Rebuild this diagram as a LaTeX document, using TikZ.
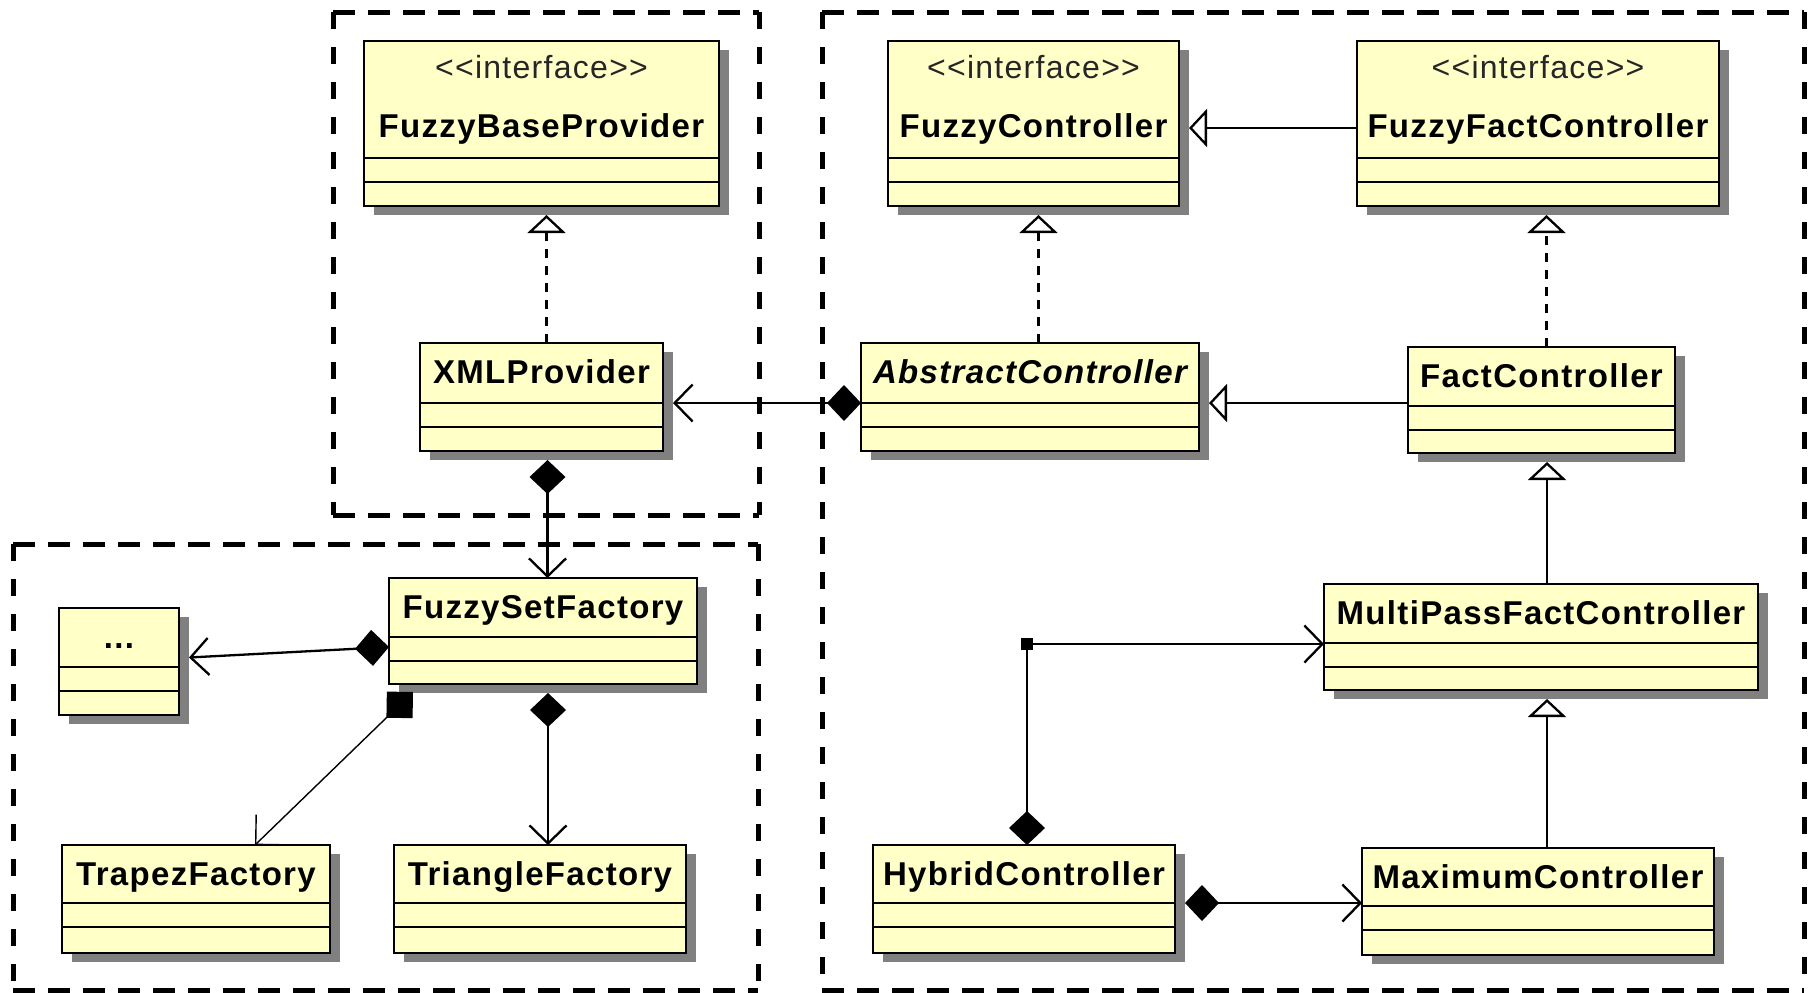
\documentclass[tikz,border=0pt]{standalone}
\usepackage{fontspec}
\newfontfamily\umlfont{Liberation Sans}[LetterSpace=4]
\usetikzlibrary{arrows.meta,shadows,calc}

\definecolor{umlfill}{RGB}{255,255,200}
\definecolor{umlshadow}{RGB}{128,128,128}

% one unit = one pixel of a 1809 x 992 canvas, y grows downwards
\tikzset{
  classbox/.style={draw=black, line width=1.35pt, fill=umlfill, inner sep=0pt, outer sep=0pt,
    anchor=north west,
    drop shadow={shadow xshift=5pt, shadow yshift=-4.5pt, fill=umlshadow, opacity=1}},
  divider/.style={line width=1.15pt},
  cname/.style={font=\umlfont\fontsize{16.5pt}{19pt}\selectfont\bfseries, anchor=base, inner sep=0pt},
  aname/.style={font=\umlfont\fontsize{16.5pt}{19pt}\selectfont\bfseries\itshape, anchor=base, inner sep=0pt},
  stereo/.style={font=\umlfont\fontsize{16pt}{19pt}\selectfont, anchor=base, inner sep=0pt, text=black!85},
  conn/.style={line width=1.15pt},
  realize/.style={conn, dash pattern=on 4.5pt off 4pt,
    -{Triangle[open, length=9pt, width=19pt, fill=white]}},
  general/.style={conn, -{Triangle[open, length=9pt, width=19pt, fill=white]}},
  compose/.style={conn, {Diamond[length=17pt, width=18pt]}-{Straight Barb[length=9pt, width=18.5pt]}},
  diagcompose/.style={line width=0.7pt, {Diamond[length=18.5pt, width=18.5pt]}-{Straight Barb[length=10.5pt, width=21pt]}},
  bendmark/.style={fill=black, inner sep=0pt, minimum size=6pt},
  pkgh/.style={line width=2.5pt, dash pattern=on 11pt off 6.5pt},
  pkgv/.style={line width=2.5pt, dash pattern=on 8.5pt off 9pt},
}

% class box: name, left, top, right, bottom, height of the name compartment
\newcommand\umlclass[6]{%
  \node[classbox, minimum width={(#4-#2)*0.5pt}, minimum height={(#5-#3)*0.5pt}] (#1) at (#2,#3) {};
  \draw[divider] ($(#1.north west)+(0,#6)$) -- ($(#1.north east)+(0,#6)$);
  \draw[divider] ($(#1.north west)+(0,#6+24)$) -- ($(#1.north east)+(0,#6+24)$);
}

% dashed package frame: left, top, right, bottom
\newcommand\pkgframe[4]{%
  \draw[pkgh] (#1,#2) -- (#3,#2);
  \draw[pkgh] (#1,#4) -- (#3,#4);
  \draw[pkgv] (#1,#2) -- (#1,#4);
  \draw[pkgv] (#3,#2) -- (#3,#4);
}

\begin{document}
\begin{tikzpicture}[x=0.5pt, y=-0.5pt]
\useasboundingbox (0,0) rectangle (1809,992);

% packages
\pkgframe{333}{12}{759}{515}
\pkgframe{13}{544}{758}{990}
\pkgframe{822}{12}{1804}{990}

% classes
\umlclass{fbp}{364}{41}{719}{206}{117}
\node[stereo] (fbp-st) at ($(fbp.north)+(0,37)$) {<<interface>>};
\node[cname] (fbp-name) at ($(fbp.north)+(0,96)$) {FuzzyBaseProvider};

\umlclass{xml}{420}{343}{663}{451}{60}
\node[cname] (xml-name) at ($(xml.north)+(0,40)$) {XMLProvider};

\umlclass{fsf}{389}{578}{697}{684}{59}
\node[cname] (fsf-name) at ($(fsf.north)+(0,40)$) {FuzzySetFactory};

\umlclass{dots}{59}{608}{179}{715}{59}
\node[cname] (dots-name) at ($(dots.north)+(0,40)$) {...};

\umlclass{trapez}{62}{845}{330}{953}{58}
\node[cname] (trapez-name) at ($(trapez.north)+(0,40)$) {TrapezFactory};

\umlclass{tri}{394}{845}{686}{953}{58}
\node[cname] (tri-name) at ($(tri.north)+(0,40)$) {TriangleFactory};

\umlclass{fc}{888}{41}{1179}{206}{117}
\node[stereo] (fc-st) at ($(fc.north)+(0,37)$) {<<interface>>};
\node[cname] (fc-name) at ($(fc.north)+(0,96)$) {FuzzyController};

\umlclass{ffc}{1357}{41}{1719}{206}{117}
\node[stereo] (ffc-st) at ($(ffc.north)+(0,37)$) {<<interface>>};
\node[cname] (ffc-name) at ($(ffc.north)+(0,96)$) {FuzzyFactController};

\umlclass{ac}{861}{343}{1199}{451}{60}
\node[aname] (ac-name) at ($(ac.north)+(0,40)$) {AbstractController};

\umlclass{fact}{1408}{347}{1675}{453}{59}
\node[cname] (fact-name) at ($(fact.north)+(0,40)$) {FactController};

\umlclass{multi}{1324}{584}{1758}{690}{59}
\node[cname] (multi-name) at ($(multi.north)+(0,40)$) {MultiPassFactController};

\umlclass{hybrid}{873}{845}{1175}{953}{58}
\node[cname] (hybrid-name) at ($(hybrid.north)+(0,40)$) {HybridController};

\umlclass{maxc}{1362}{848}{1714}{955}{58}
\node[cname] (maxc-name) at ($(maxc.north)+(0,40)$) {MaximumController};

% relations
\draw[realize] ($(xml.north)+(5,0)$) -- ($(fbp.south)+(5,9)$);
\draw[compose] ($(ac.west)+(0,6)$) -- ($(xml.east)+(10,6)$);

\coordinate (xmlbot) at ($(xml.south)+(6,9)$);
\draw[compose] (xmlbot) -- (xmlbot |- fsf.north);

\draw[compose] ($(fsf.west)+(0,16)$) -- ($(dots.east)+(10,-4)$);
\draw[diagcompose] ($(fsf.south west)+(24,8)$) -- ($(trapez.north west)+(193,0)$);

\coordinate (fsfbot) at ($(fsf.south)+(5,9)$);
\draw[compose] (fsfbot) -- (fsfbot |- tri.north);

\draw[general] ($(ffc.west)+(0,4.5)$) -- ($(fc.east)+(10,4.5)$);

\coordinate (fcbot) at ($(fc.south)+(5,9)$);
\draw[realize] (fcbot |- ac.north) -- (fcbot);

\coordinate (facttop) at ($(fact.north)+(5,0)$);
\draw[realize] (facttop) -- ($(facttop |- ffc.south)+(0,9)$);

\draw[general] ($(fact.west)+(0,3)$) -- ($(ac.east)+(10,6)$);

\coordinate (multitop) at ($(multi.north)+(6,0)$);
\draw[general] (multitop) -- ($(multitop |- fact.south)+(0,9)$);

\coordinate (maxtop) at ($(maxc.north)+(9,0)$);
\draw[general] (maxtop) -- ($(maxtop |- multi.south)+(0,9)$);

\node[bendmark] (bend) at (1027,644) {};
\draw[compose] (bend |- hybrid.north) -- (bend.center) -- (bend -| multi.west);

\coordinate (hybright) at ($(hybrid.east)+(10,4)$);
\draw[compose] (hybright) -- (hybright -| maxc.west);
\end{tikzpicture}
\end{document}
